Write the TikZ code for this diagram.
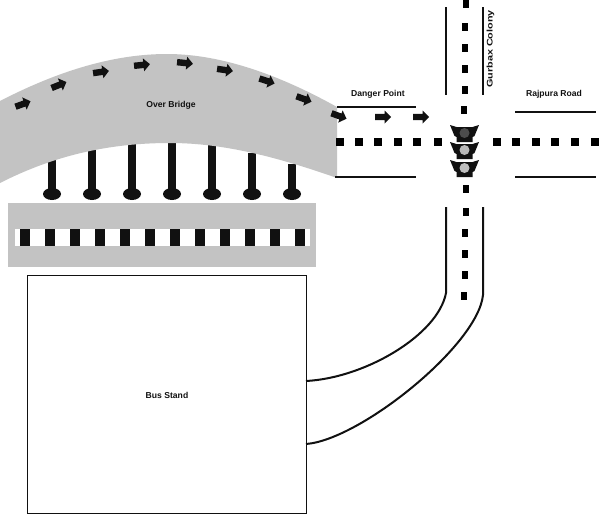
\documentclass[tikz,border=0pt]{standalone}
\usepackage{fontspec}
\setmainfont{Liberation Sans}
\definecolor{bridgegray}{HTML}{C3C3C3}
\definecolor{ink}{HTML}{111111}
\tikzset{
  px/.style={x=1pt,y=-1pt},
  roadline/.style={draw=ink,line width=2pt},
  frame/.style={draw=ink,line width=1pt,fill=white,minimum width=279pt,minimum height=238pt,inner sep=0pt},
  lab/.style={font=\fontsize{8.6}{10}\selectfont\bfseries,text=ink,inner sep=0pt},
  pics/flow/.style={code={\fill[ink] (-8,-3.2) -- (1.5,-3.2) -- (1.5,-6.5) -- (8,0) -- (1.5,6.5) -- (1.5,3.2) -- (-8,3.2) -- cycle;}},
  pics/lamp/.style={code={
    \fill[ink] (-14.5,-8) -- (-8,-6) -- (8,-6) -- (14.5,-8) -- (10,3) -- (8,4) -- (8,9) -- (-8,9) -- (-8,4) -- (-10,3) -- cycle;
    \fill[#1] (0,0) circle (5);
  }}
}
\begin{document}
\begin{tikzpicture}[px]
\useasboundingbox (0,0) rectangle (600,514);
% pillars
\foreach \x/\t in {52/158,92/148,132/142,172/141,212/145,252/153,292/164}{
  \fill[ink] (\x-4,\t) rectangle (\x+4,192);
  \fill[ink] (\x,194) ellipse (9 and 6);
}
% over bridge
\fill[bridgegray] (0,101) .. controls (60,70) and (115,54) .. (167,54)
  .. controls (225,54) and (285,78) .. (337,107) -- (337,178)
  .. controls (280,158) and (225,143) .. (170,143)
  .. controls (110,143) and (55,155) .. (0,183) -- cycle;
\foreach \x/\y/\a in {23/104/20,59/85/22,101/72/8,142/65/6,185/63/-6,225/70/-8,267/81/-18,304/99/-20,339/116/-20}{
  \pic[rotate=\a] at (\x,\y) {flow};
}
\node[lab] (overbridge) at (171,105.5) {Over Bridge};
% lower road
\fill[bridgegray] (8,203) rectangle (316,267);
\fill[white] (14.5,229) rectangle (310,246);
\foreach \i in {0,...,11}{
  \fill[ink] (20+25*\i,229) rectangle (30+25*\i,246);
}
% bus stand
\node[frame] (busstand) at (166.5,394) {};
\node[lab] (buslabel) at (167,395) {Bus Stand};
% horizontal road
\foreach \x in {340,359,378,398,417,438,497,516,536,555,575,595}{
  \fill[black] (\x-4,138) rectangle (\x+4,146);
}
% vertical road
\foreach \x/\y in {465.5/4,465.3/27,465/48,465/69,464.5/90,464/110,465.5/189,465.5/212,465/233,465/254,464.5/275,464/296}{
  \fill[black] (\x-3,\y-4) rectangle (\x+3,\y+4);
}
% road edges
\coordinate (nwa) at (446,7); \coordinate (nwb) at (446,95);
\coordinate (nea) at (483,7); \coordinate (neb) at (483,95);
\draw[roadline] (nwa) -- (nwb);
\draw[roadline] (nea) -- (neb);
\coordinate (wna) at (337,106.5); \coordinate (wnb) at (416,106.5);
\coordinate (wsa) at (335,177); \coordinate (wsb) at (416,177);
\coordinate (ena) at (515,112); \coordinate (enb) at (596,112);
\coordinate (esa) at (515,177); \coordinate (esb) at (596,177);
\draw[roadline] (wna) -- (wnb);
\draw[roadline] (wsa) -- (wsb);
\draw[roadline] (ena) -- (enb);
\draw[roadline] (esa) -- (esb);
\coordinate (swa) at (446,207); \coordinate (swb) at (446,293);
\coordinate (sea) at (483,207); \coordinate (seb) at (483,295);
\coordinate (busa) at (306,381); \coordinate (busb) at (306,444);
\draw[roadline] (swa) -- (swb) .. controls (438,335) and (365,378) .. (busa);
\draw[roadline] (sea) -- (seb) .. controls (478,345) and (360,440) .. (busb);
% danger-point arrows
\pic at (383,117) {flow};
\pic at (421,117) {flow};
% traffic light
\pic at (464.5,133) {lamp={gray!60!black}};
\pic at (464.5,150) {lamp={gray!55}};
\pic at (464.5,168) {lamp={gray!50}};
% labels
\node[lab] (danger) at (378,94) {Danger Point};
\node[lab] (rajpura) at (554,94) {Rajpura Road};
\node[lab,rotate=90,xscale=1.32,font=\fontsize{8.2}{10}\selectfont\bfseries] (gurbax) at (490.5,49) {Gurbax Colony};
\end{tikzpicture}
\end{document}
